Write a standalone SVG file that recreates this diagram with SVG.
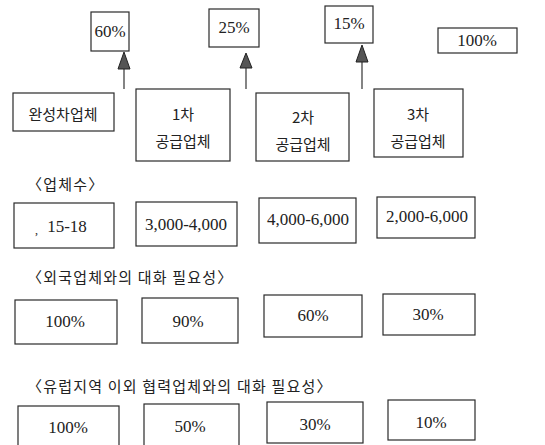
<svg xmlns="http://www.w3.org/2000/svg" width="545" height="445" viewBox="0 0 545 445">
<style>
.b{fill:#fff;stroke:#2a2a2a;stroke-width:1.2}
.n{font-family:"Liberation Serif","Noto Sans CJK KR",serif;font-size:17px;fill:#222;text-anchor:middle}
.k{font-family:"Noto Sans CJK KR","Liberation Serif",serif;font-size:15px;fill:#222;text-anchor:middle}
.h{font-family:"Noto Sans CJK KR","Liberation Serif",serif;font-size:15px;fill:#222;letter-spacing:1.2px}
.c{stroke:#333;stroke-width:1.2;fill:none}
.t{fill:#555;stroke:#222;stroke-width:1}
</style>
<rect width="545" height="445" fill="#fff"/>
<g id="p60"><rect class="b" x="91" y="12" width="38" height="39"/><text class="n" x="110" y="37">60%</text></g>
<g id="p25"><rect class="b" x="209" y="9" width="50" height="38"/><text class="n" x="234" y="33">25%</text></g>
<g id="p15"><rect class="b" x="325" y="6" width="48" height="37"/><text class="n" x="349" y="29">15%</text></g>
<g id="p100"><rect class="b" x="438" y="28" width="79" height="25"/><text class="n" x="477" y="46">100%</text></g>
<g id="oem"><rect class="b" x="13" y="93" width="101" height="38"/><text class="k" x="63" y="120">완성차업체</text></g>
<g id="tier1"><rect class="b" x="136" y="89" width="94" height="72"/><text class="k" x="183" y="120">1차</text><text class="k" x="183" y="147">공급업체</text></g>
<g id="tier2"><rect class="b" x="256" y="93" width="93" height="68"/><text class="k" x="303" y="123">2차</text><text class="k" x="303" y="150">공급업체</text></g>
<g id="tier3"><rect class="b" x="374" y="89" width="89" height="68"/><text class="k" x="418" y="120">3차</text><text class="k" x="418" y="147">공급업체</text></g>
<g id="connectors">
<line class="c" x1="124" y1="89" x2="124" y2="68"/><polygon class="t" points="124,52 118,69 130,69"/>
<line class="c" x1="246" y1="89" x2="246" y2="67"/><polygon class="t" points="246,53 240,68 252,68"/>
<line class="c" x1="362" y1="89" x2="362" y2="61"/><polygon class="t" points="362,45 356,62 368,62"/>
</g>
<text class="h" x="27" y="190">〈업체수〉</text>
<g id="cnt1"><rect class="b" x="14" y="203" width="100" height="45"/><text class="n" x="35" y="234" style="text-anchor:start;font-size:12px">,</text><text class="n" x="67" y="232">15-18</text></g>
<g id="cnt2"><rect class="b" x="136" y="202" width="101" height="44"/><text class="n" x="186" y="230">3,000-4,000</text></g>
<g id="cnt3"><rect class="b" x="259" y="198" width="97" height="45"/><text class="n" x="308" y="225">4,000-6,000</text></g>
<g id="cnt4"><rect class="b" x="377" y="197" width="98" height="41"/><text class="n" x="427" y="222">2,000-6,000</text></g>
<text class="h" x="27" y="283">〈외국업체와의 대화 필요성〉</text>
<g id="f1"><rect class="b" x="15" y="300" width="102" height="44"/><text class="n" x="65" y="327">100%</text></g>
<g id="f2"><rect class="b" x="142" y="298" width="96" height="45"/><text class="n" x="188" y="327">90%</text></g>
<g id="f3"><rect class="b" x="264" y="295" width="98" height="42"/><text class="n" x="313" y="321">60%</text></g>
<g id="f4"><rect class="b" x="383" y="294" width="92" height="41"/><text class="n" x="428" y="320">30%</text></g>
<text class="h" x="27" y="392">〈유럽지역 이외 협력업체와의 대화 필요성〉</text>
<g id="e1"><rect class="b" x="18" y="406" width="101" height="44"/><text class="n" x="68" y="433">100%</text></g>
<g id="e2"><rect class="b" x="144" y="404" width="95" height="46"/><text class="n" x="190" y="432">50%</text></g>
<g id="e3"><rect class="b" x="267" y="402" width="96" height="41"/><text class="n" x="315" y="430">30%</text></g>
<g id="e4"><rect class="b" x="388" y="400" width="87" height="40"/><text class="n" x="431" y="428">10%</text></g>
</svg>
